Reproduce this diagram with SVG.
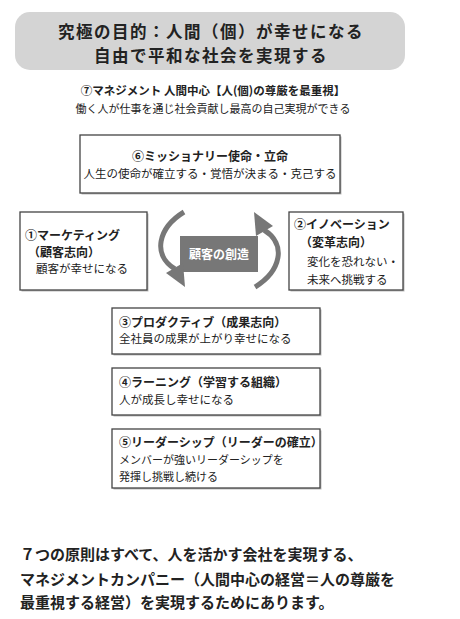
<svg xmlns="http://www.w3.org/2000/svg" width="460" height="619" viewBox="0 0 460 619">
<style>
text{font-family:"Noto Sans CJK JP","Noto Sans CJK SC",sans-serif;fill:#222}
.b{font-weight:bold}
.box{fill:#fff;stroke:#444;stroke-width:1.3}
.sh{fill:#bbb}
.arc{fill:none;stroke:#777;stroke-width:5}
.head{fill:#777}
.title{font-size:16.5px;letter-spacing:1.5px;font-weight:bold}
</style>
<rect width="460" height="619" fill="#fff"/>
<g id="goal">
<rect x="15" y="12" width="390" height="58" rx="15" fill="#d4d4d4"/>
<text x="211" y="38" text-anchor="middle" class="title">究極の目的：人間（個）が幸せになる</text>
<text x="211" y="62" text-anchor="middle" class="title">自由で平和な社会を実現する</text>
</g>
<g id="p7">
<text x="213" y="95" text-anchor="middle" class="b" font-size="11.5">⑦マネジメント 人間中心【人(個)の尊厳を最重視】</text>
<text x="213" y="113" text-anchor="middle" font-size="11">働く人が仕事を通じ社会貢献し最高の自己実現ができる</text>
</g>
<g id="p6">
<rect x="81.5" y="136.5" width="260" height="58" class="sh"/>
<rect x="80" y="135" width="260" height="58" class="box"/>
<text x="210" y="161" text-anchor="middle" class="b" font-size="12">⑥ミッショナリー使命・立命</text>
<text x="210" y="178" text-anchor="middle" font-size="11.5">人生の使命が確立する・覚悟が決まる・克己する</text>
</g>
<g id="p1">
<rect x="21.5" y="213.5" width="127" height="78" class="sh"/>
<rect x="20" y="212" width="127" height="78" class="box"/>
<text x="25" y="240" class="b" font-size="12">①マーケティング</text>
<text x="28" y="257" class="b" font-size="12">（顧客志向）</text>
<text x="36" y="273" font-size="11.5">顧客が幸せになる</text>
</g>
<g id="p2">
<rect x="290.5" y="213.5" width="114" height="78" class="sh"/>
<rect x="289" y="212" width="114" height="78" class="box"/>
<text x="294" y="229" class="b" font-size="12">②イノベーション</text>
<text x="300" y="247" class="b" font-size="12">（変革志向）</text>
<text x="307" y="266" font-size="11.5">変化を恐れない・</text>
<text x="307" y="284" font-size="11.5">未来へ挑戦する</text>
</g>
<g id="center">
<rect x="180" y="236" width="78" height="36" fill="#777"/>
<text x="219" y="259" text-anchor="middle" font-size="12" class="b" style="fill:#fff">顧客の創造</text>
</g>
<g id="connectors">
<g id="arrow-left">
<path class="arc" d="M184,212 C158,228 152,255 175,269"/>
<polygon class="head" points="185,287 166,273 183,263"/>
</g>
<g id="arrow-right" transform="rotate(180 219.5 249.5)">
<path class="arc" d="M184,212 C158,228 152,255 175,269"/>
<polygon class="head" points="185,287 166,273 183,263"/>
</g>
</g>
<g id="p3">
<rect x="113.5" y="309.5" width="208" height="46" class="sh"/>
<rect x="112" y="308" width="208" height="46" class="box"/>
<text x="119" y="327" class="b" font-size="12">③プロダクティブ（成果志向）</text>
<text x="119" y="343" font-size="11.5">全社員の成果が上がり幸せになる</text>
</g>
<g id="p4">
<rect x="113.5" y="369.5" width="208" height="47" class="sh"/>
<rect x="112" y="368" width="208" height="47" class="box"/>
<text x="119" y="387" class="b" font-size="12">④ラーニング（学習する組織）</text>
<text x="119" y="404" font-size="11.5">人が成長し幸せになる</text>
</g>
<g id="p5">
<rect x="113.5" y="430.5" width="208" height="59" class="sh"/>
<rect x="112" y="429" width="208" height="59" class="box"/>
<text x="119" y="447" class="b" font-size="12">⑤リーダーシップ（リーダーの確立）</text>
<text x="119" y="464" font-size="11">メンバーが強いリーダーシップを</text>
<text x="119" y="481" font-size="11">発揮し挑戦し続ける</text>
</g>
<g id="summary">
<text x="20" y="560" class="b" font-size="15">７つの原則はすべて、人を活かす会社を実現する、</text>
<text x="20" y="585" class="b" font-size="15">マネジメントカンパニー（人間中心の経営＝人の尊厳を</text>
<text x="20" y="608" class="b" font-size="15">最重視する経営）を実現するためにあります。</text>
</g>
</svg>
